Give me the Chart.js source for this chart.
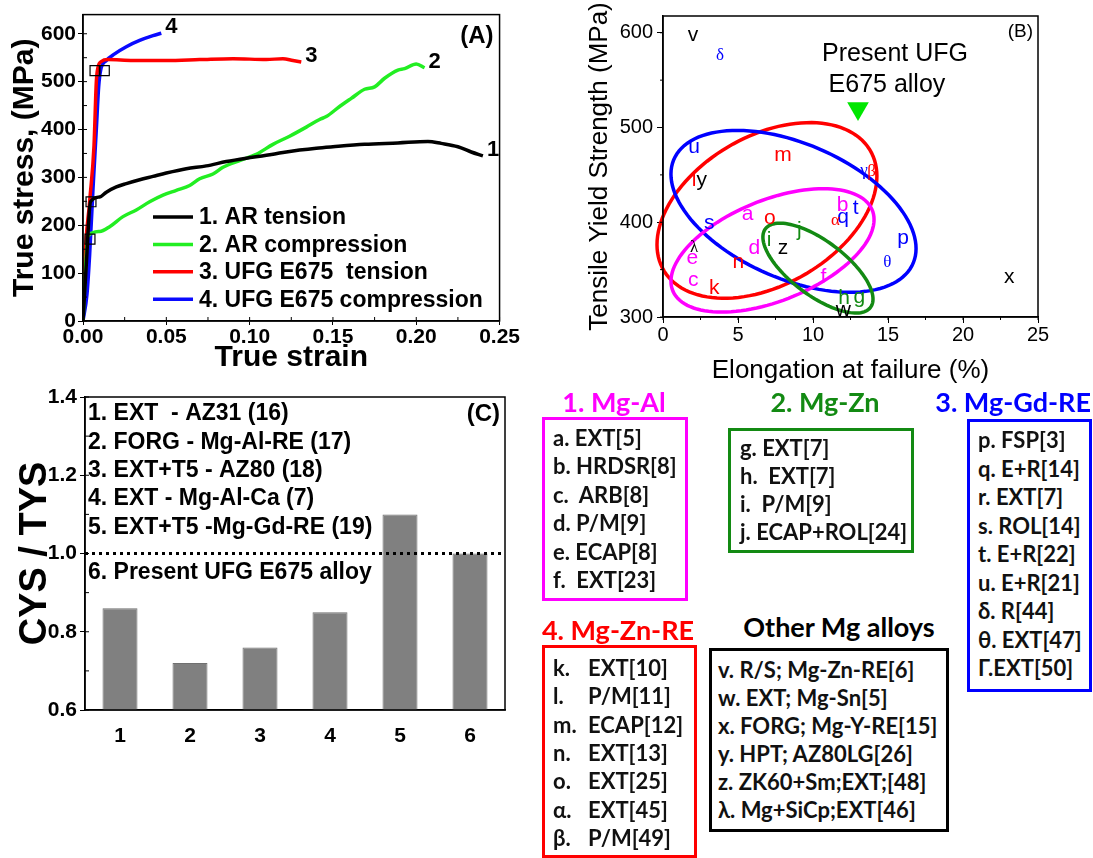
<!doctype html>
<html>
<head>
<title>Mg alloys - stress/strain, TYS map, CYS/TYS</title>
<script src="https://cdn.jsdelivr.net/npm/chart.js@4.4.0/dist/chart.umd.min.js"></script>
<style>
body{margin:0;background:#fff;}
#page{position:relative;width:1093px;height:858px;overflow:hidden;background:#fff;font-family:Lato,sans-serif;}
canvas{position:absolute;}
.box{position:absolute;box-sizing:border-box;border:3px solid;}
.ttl{position:absolute;font-weight:700;font-size:27px;line-height:30px;white-space:nowrap;}
.row{position:absolute;font-weight:700;font-size:22px;line-height:28px;white-space:pre;color:#111;}
</style>
</head>
<body>
<div id="page">
  <canvas id="cA" width="520" height="380" style="left:0;top:0"></canvas>
  <canvas id="cB" width="523" height="400" style="left:570px;top:0"></canvas>
  <canvas id="cC" width="520" height="420" style="left:0;top:380px"></canvas>
</div>
<script>
// ---- panel A : true stress / true strain curves
const strain1 = [0, 0.002, 0.0045, 0.010, 0.014, 0.020, 0.026, 0.034, 0.042, 0.050, 0.062, 0.074, 0.086, 0.098, 0.110, 0.120, 0.130, 0.140, 0.150, 0.169, 0.189, 0.207, 0.215, 0.225, 0.233, 0.240];
const stress1 = [0, 120, 249, 259, 269, 280, 287, 295, 302, 309, 318, 324, 333, 340, 346, 352, 357, 361, 364, 369, 372, 375, 371, 364, 353, 345];
const strain2 = [0, 0.003, 0.010, 0.016, 0.024, 0.032, 0.040, 0.048, 0.056, 0.064, 0.070, 0.078, 0.084, 0.094, 0.104, 0.114, 0.124, 0.134, 0.142, 0.146, 0.154, 0.161, 0.169, 0.175, 0.181, 0.189, 0.193, 0.200, 0.205];
const stress2 = [0, 178, 187, 197, 218, 232, 249, 263, 273, 283, 297, 307, 321, 335, 348, 369, 386, 405, 421, 427, 448, 465, 484, 489, 507, 524, 527, 537, 529];
const strain3 = [0, 0.001, 0.004, 0.0066, 0.008, 0.009, 0.011, 0.015, 0.030, 0.050, 0.070, 0.090, 0.110, 0.120, 0.126, 0.131];
const stress3 = [0, 120, 250, 366, 500, 530, 542, 546, 544, 544, 546, 548, 546, 548, 544, 541];
const strain4 = [0, 0.0024, 0.004, 0.006, 0.008, 0.0094, 0.0106, 0.014, 0.019, 0.026, 0.034, 0.042, 0.047];
const stress4 = [0, 56, 139, 276, 400, 489, 524, 544, 558, 573, 586, 596, 601];
const curveNames = ['1. AR tension', '2. AR compression', '3. UFG E675  tension', '4. UFG E675 compression'];
const curveTags = ['1', '2', '3', '4'];
const yieldStrain = [0.0072, 0.0128, 0.0048, 0.0042];
const yieldStress = [523, 523, 249, 171];

// ---- panel B : tensile yield strength vs elongation
const ptLabels = ['v', 'δ', 'u', 'm', 'l', 'y', 'γ', 'β', 'b', 't', 'q', 'α', 'a', 'o', 'j', 's', 'p', 'i', 'z', 'd', 'λ', 'e', 'θ', 'n', 'x', 'c', 'f', 'k', 'h', 'g', 'w'];
const ptElong  = [2.0, 3.8, 2.07, 8.0, 2.07, 2.58, 13.4, 13.9, 11.98, 12.84, 12.0, 11.5, 5.64, 7.13, 9.09, 3.09, 16.0, 7.07, 8.0, 6.09, 2.07, 1.96, 14.96, 5.02, 23.09, 2.02, 10.69, 3.42, 12.07, 13.09, 12.02];
const ptTys    = [597, 576, 479, 471, 444, 444, 455, 454, 418, 415, 405, 402, 408, 404, 392, 399, 383, 381, 373, 373, 373, 362, 358, 358, 342, 339, 342, 330, 320, 321, 307];
const ptGroup  = [4, 2, 2, 3, 3, 4, 2, 3, 0, 2, 2, 3, 0, 3, 1, 2, 2, 1, 4, 0, 4, 0, 2, 3, 4, 0, 0, 3, 1, 1, 4];
const ufgElong = [13.0];
const ufgTys = [520];
// ellipse per alloy group: centre, half extents, tilt (cos of phase)
const ellGroup = [3, 2, 0, 1];
const ellCx = [6.93, 8.7, 7.3, 10.33];
const ellCy = [412.5, 411.5, 370.3, 351.6];
const ellRx = [7.33, 8.17, 6.77, 3.67];
const ellRy = [92.7, 85.4, 65.1, 47.4];
const ellTilt = [0.39, -0.46, 0.50, -0.69];

// ---- panel C : CYS/TYS ratio
const cysCats = ['1', '2', '3', '4', '5', '6'];
const cysTys = [0.86, 0.72, 0.76, 0.85, 1.10, 1.00];
const cysRef = 1.0;
const cysNotes = ['1. EXT  - AZ31 (16)', '2. FORG - Mg-Al-RE (17)', '3. EXT+T5 - AZ80 (18)', '4. EXT - Mg-Al-Ca (7)', '5. EXT+T5 -Mg-Gd-RE (19)', '6. Present UFG E675 alloy'];

// ---- legend boxes
const boxTitles = ['1. Mg-Al', '2. Mg-Zn', '3. Mg-Gd-RE', '4. Mg-Zn-RE', 'Other Mg alloys'];
const boxRows = [
  ['a. EXT[5]', 'b. HRDSR[8]', 'c.  ARB[8]', 'd. P/M[9]', 'e. ECAP[8]', 'f.  EXT[23]'],
  ['g. EXT[7]', 'h.  EXT[7]', 'i.  P/M[9]', 'j. ECAP+ROL[24]'],
  ['p. FSP[3]', 'q. E+R[14]', 'r. EXT[7]', 's. ROL[14]', 't. E+R[22]', 'u. E+R[21]', 'δ. R[44]', 'θ. EXT[47]', 'Γ.EXT[50]'],
  ['k.\tEXT[10]', 'l.\tP/M[11]', 'm.\tECAP[12]', 'n.\tEXT[13]', 'o.\tEXT[25]', 'α.\tEXT[45]', 'β.\tP/M[49]'],
  ['v. R/S; Mg-Zn-RE[6]', 'w. EXT; Mg-Sn[5]', 'x. FORG; Mg-Y-RE[15]', 'y. HPT; AZ80LG[26]', 'z. ZK60+Sm;EXT;[48]', 'λ. Mg+SiCp;EXT[46]']
];

const groupColors = ['#ff00ff', '#138a13', '#0000ff', '#ff0000', '#000000'];
const curveColors = ['#000000', '#22ee22', '#ff0000', '#0a0aff'];

const boxLayout = [
  {rect: [542, 417, 688, 601], tx: 614, ty: 402, rx: 553, ry: 438, dy: 28.4},
  {rect: [728, 428, 914, 553], tx: 825, ty: 402, rx: 740, ry: 448, dy: 28},
  {rect: [967, 419, 1092, 692], tx: 1091, ty: 402, right: true, rx: 978, ry: 440, dy: 28.5},
  {rect: [542, 645, 697, 858], tx: 618, ty: 630, rx: 553, ry: 668, dy: 28.3, col2: 588},
  {rect: [709, 648, 949, 832], tx: 839, ty: 627, rx: 718, ry: 670, dy: 28}
];

const page = document.getElementById('page');
boxTitles.forEach(function(t, i) {
  const L = boxLayout[i];
  const col = groupColors[i === 3 ? 3 : (i === 4 ? 4 : i === 2 ? 2 : i === 1 ? 1 : 0)];
  const box = document.createElement('div');
  box.className = 'box';
  box.style.cssText = 'left:' + L.rect[0] + 'px;top:' + L.rect[1] + 'px;width:' + (L.rect[2] - L.rect[0]) + 'px;height:' + (L.rect[3] - L.rect[1]) + 'px;border-color:' + col;
  page.appendChild(box);
  const ttl = document.createElement('div');
  ttl.className = 'ttl';
  ttl.textContent = t;
  ttl.style.cssText = 'left:' + L.tx + 'px;top:' + L.ty + 'px;color:' + col + ';transform:translate(' + (L.right ? '-100%' : '-50%') + ',-50%)';
  page.appendChild(ttl);
  boxRows[i].forEach(function(r, k) {
    const parts = r.split('\t');
    const top = L.ry + k * L.dy - 14;
    const a = document.createElement('div');
    a.className = 'row';
    a.textContent = parts[0];
    a.style.cssText = 'left:' + L.rx + 'px;top:' + top + 'px';
    page.appendChild(a);
    if (parts.length > 1) {
      const b = document.createElement('div');
      b.className = 'row';
      b.textContent = parts[1];
      b.style.cssText = 'left:' + L.col2 + 'px;top:' + top + 'px';
      page.appendChild(b);
    }
  });
});

function pts(xs, ys) { return xs.map(function(x, i) { return {x: x, y: ys[i]}; }); }
const SANS = '"Liberation Sans", Arial, sans-serif';
function bold(s) { return {family: SANS, size: s, weight: 'bold'}; }
function plain(s) { return {family: SANS, size: s}; }

// frame round the plot area + minor tick marks
const framePlugin = {
  id: 'frame',
  afterDraw(chart, args, o) {
    const ctx = chart.ctx, a = chart.chartArea, sx = chart.scales.x, sy = chart.scales.y;
    ctx.save();
    ctx.strokeStyle = '#000';
    ctx.lineWidth = 1.5;
    ctx.strokeRect(a.left, a.top, a.right - a.left, a.bottom - a.top);
    ctx.lineWidth = 1;
    ctx.beginPath();
    if (o.minorX) {
      const n = Math.round((sx.max - sx.min) / o.minorX);
      for (let k = 0; k <= n; k++) {
        const px = sx.getPixelForValue(sx.min + k * o.minorX);
        ctx.moveTo(px, a.bottom); ctx.lineTo(px, a.bottom + o.dir * o.len);
      }
    }
    if (o.minorY) {
      const start = Math.ceil(sy.min / o.minorY - 1e-6) * o.minorY;
      const n = Math.floor((sy.max - start) / o.minorY + 1e-6);
      for (let k = 0; k <= n; k++) {
        const py = sy.getPixelForValue(start + k * o.minorY);
        ctx.moveTo(a.left, py); ctx.lineTo(a.left - o.dir * o.len, py);
      }
    }
    ctx.stroke();
    ctx.restore();
  }
};

// ---------- Chart A
const curves = [[strain1, stress1], [strain2, stress2], [strain3, stress3], [strain4, stress4]];
const panelA = {
  id: 'panelA',
  afterDatasetsDraw(chart) {
    const ctx = chart.ctx, a = chart.chartArea, x = chart.scales.x, y = chart.scales.y;
    ctx.save();
    ctx.fillStyle = '#000';
    ctx.textBaseline = 'middle';
    ctx.textAlign = 'left';
    ctx.font = 'bold 22px ' + SANS;
    curves.forEach(function(c, i) {
      const n = c[0].length - 1;
      ctx.fillText(curveTags[i], x.getPixelForValue(c[0][n]) + 4, y.getPixelForValue(c[1][n]) - 6);
    });
    ctx.textAlign = 'right';
    ctx.font = 'bold 24px ' + SANS;
    ctx.fillText('(A)', a.right - 6, a.top + 22);
    ctx.textAlign = 'left';
    ctx.font = 'bold 23px ' + SANS;
    curveNames.forEach(function(nm, i) {
      const yy = 217 + i * 27.4;
      ctx.strokeStyle = curveColors[i];
      ctx.lineWidth = 3.5;
      ctx.beginPath(); ctx.moveTo(153, yy); ctx.lineTo(193, yy); ctx.stroke();
      ctx.fillText(nm, 199, yy + 1);
    });
    ctx.restore();
  }
};

new Chart(document.getElementById('cA'), {
  type: 'line',
  data: {
    datasets: curves.map(function(c, i) {
      return {label: curveNames[i], data: pts(c[0], c[1]), borderColor: curveColors[i], borderWidth: 3.5,
        pointRadius: 0, cubicInterpolationMode: 'monotone', fill: false};
    }).concat([{type: 'scatter', label: 'yield', order: -1, data: pts(yieldStrain, yieldStress), pointStyle: 'rect',
      pointRadius: 7, pointBorderColor: '#000', pointBorderWidth: 1.2, pointBackgroundColor: 'rgba(0,0,0,0)'}])
  },
  options: {
    responsive: false, animation: false, devicePixelRatio: 1,
    layout: {padding: {top: 11, right: 19, left: 0, bottom: 0}},
    plugins: {legend: {display: false}, tooltip: {enabled: false}, frame: {minorX: 0.025, minorY: 50, len: 4, dir: -1}},
    scales: {
      x: {type: 'linear', min: 0, max: 0.25, afterFit(s) { s.height = 59; },
        ticks: {stepSize: 0.05, autoSkip: false, maxRotation: 0, callback: function(v) { return v.toFixed(2); }, font: bold(21), color: '#000', padding: 0},
        grid: {drawOnChartArea: false, tickLength: 4, color: '#000'}, border: {color: '#000', width: 1.5},
        title: {display: true, text: 'True strain', font: bold(30), color: '#000', padding: {top: 0, bottom: 4}}},
      y: {type: 'linear', min: 0, max: 640, afterFit(s) { s.width = 83; },
        ticks: {stepSize: 100, includeBounds: false, font: bold(21), color: '#000', padding: 2},
        grid: {drawOnChartArea: false, tickLength: 5, color: '#000'}, border: {color: '#000', width: 1.5},
        title: {display: true, text: 'True stress, (MPa)', font: bold(30), color: '#000', padding: {top: 7, bottom: 0}}}
    }
  },
  plugins: [framePlugin, panelA]
});

// ---------- Chart B
const GREEK = 'δγβαλθ';
const panelB = {
  id: 'panelB',
  beforeDatasetsDraw(chart) {
    const ctx = chart.ctx, x = chart.scales.x, y = chart.scales.y;
    ctx.save();
    ctx.lineWidth = 3.5;
    ellCx.forEach(function(cx, i) {
      const phi = Math.acos(ellTilt[i]);
      ctx.strokeStyle = groupColors[ellGroup[i]];
      ctx.beginPath();
      for (let k = 0; k <= 120; k++) {
        const t = k / 120 * 2 * Math.PI;
        const px = x.getPixelForValue(cx + ellRx[i] * Math.cos(t));
        const py = y.getPixelForValue(ellCy[i] + ellRy[i] * Math.cos(t - phi));
        if (k === 0) ctx.moveTo(px, py); else ctx.lineTo(px, py);
      }
      ctx.closePath();
      ctx.stroke();
    });
    ctx.restore();
  },
  afterDatasetsDraw(chart) {
    const ctx = chart.ctx, a = chart.chartArea, x = chart.scales.x, y = chart.scales.y;
    ctx.save();
    ctx.textAlign = 'center';
    ctx.textBaseline = 'middle';
    ptLabels.forEach(function(l, i) {
      ctx.fillStyle = groupColors[ptGroup[i]];
      ctx.font = GREEK.indexOf(l) >= 0 ? '17px "Liberation Serif", serif' : '21px ' + SANS;
      ctx.fillText(l, x.getPixelForValue(ptElong[i]), y.getPixelForValue(ptTys[i]));
    });
    ctx.fillStyle = '#000';
    ctx.font = '25px ' + SANS;
    ctx.fillText('Present UFG', x.getPixelForValue(15.47), y.getPixelForValue(578));
    ctx.fillText('E675 alloy', x.getPixelForValue(14.93), y.getPixelForValue(545));
    ctx.textAlign = 'right';
    ctx.font = '19px ' + SANS;
    ctx.fillText('(B)', a.right - 5, a.top + 16);
    ctx.restore();
  }
};

new Chart(document.getElementById('cB'), {
  type: 'scatter',
  data: {datasets: [{label: 'Present UFG E675 alloy', data: pts(ufgElong, ufgTys), pointStyle: 'triangle', pointRotation: 180,
    pointRadius: 12.5, pointBackgroundColor: '#00e600', pointBorderColor: '#00e600', pointBorderWidth: 0}]},
  options: {
    responsive: false, animation: false, devicePixelRatio: 1,
    layout: {padding: {top: 12, right: 55, left: 0, bottom: 0}},
    plugins: {legend: {display: false}, tooltip: {enabled: false}, frame: {minorX: 2.5, minorY: 50, len: 3, dir: 1}},
    scales: {
      x: {type: 'linear', min: 0, max: 25, afterFit(s) { s.height = 83; },
        ticks: {stepSize: 5, autoSkip: false, maxRotation: 0, font: plain(20), color: '#000', padding: 0},
        grid: {drawOnChartArea: false, tickLength: 6, color: '#000'}, border: {color: '#000', width: 1.5},
        title: {display: true, text: 'Elongation at failure (%)', font: plain(26), color: '#000', padding: {top: 0, bottom: 14}}},
      y: {type: 'linear', min: 300, max: 617.7, afterFit(s) { s.width = 93; },
        ticks: {stepSize: 100, includeBounds: false, font: plain(20), color: '#000', padding: 4},
        grid: {drawOnChartArea: false, tickLength: 6, color: '#000'}, border: {color: '#000', width: 1.5},
        title: {display: true, text: 'Tensile Yield Strength (MPa)', font: plain(26), color: '#000', padding: {top: 14, bottom: 0}}}
    }
  },
  plugins: [framePlugin, panelB]
});

// ---------- Chart C
const panelC = {
  id: 'panelC',
  afterDatasetsDraw(chart) {
    const ctx = chart.ctx, a = chart.chartArea, y = chart.scales.y;
    ctx.save();
    const py = y.getPixelForValue(cysRef);
    ctx.strokeStyle = '#000';
    ctx.lineWidth = 3;
    ctx.setLineDash([3, 4]);
    ctx.beginPath(); ctx.moveTo(a.left, py); ctx.lineTo(a.right, py); ctx.stroke();
    ctx.setLineDash([]);
    ctx.fillStyle = '#000';
    ctx.textBaseline = 'middle';
    ctx.textAlign = 'left';
    ctx.font = 'bold 23px ' + SANS;
    cysNotes.forEach(function(t, i) {
      const yy = a.top + (i < 5 ? 17 + i * 28.3 : 176);
      ctx.fillText(t, a.left + 3, yy);
    });
    ctx.textAlign = 'right';
    ctx.font = 'bold 24px ' + SANS;
    ctx.fillText('(C)', a.right - 5, a.top + 17);
    ctx.restore();
  }
};

new Chart(document.getElementById('cC'), {
  type: 'bar',
  data: {labels: cysCats, datasets: [{label: 'CYS / TYS', data: cysTys, backgroundColor: '#808080',
    borderColor: '#707070', borderWidth: 1, barPercentage: 0.5, categoryPercentage: 1}]},
  options: {
    responsive: false, animation: false, devicePixelRatio: 1,
    layout: {padding: {top: 17, right: 15, left: 0, bottom: 0}},
    plugins: {legend: {display: false}, tooltip: {enabled: false}, frame: {minorY: 0.1, len: 4, dir: -1}},
    scales: {
      x: {afterFit(s) { s.height = 90; },
        ticks: {font: bold(21), color: '#000', padding: 6},
        grid: {display: false}, border: {color: '#000', width: 1.5}},
      y: {min: 0.6, max: 1.4, afterFit(s) { s.width = 85; },
        ticks: {stepSize: 0.2, callback: function(v) { return v.toFixed(1); }, font: bold(21), color: '#000', padding: 3},
        grid: {drawOnChartArea: false, tickLength: 5, color: '#000'}, border: {color: '#000', width: 1.5},
        title: {display: true, text: 'CYS / TYS', font: bold(38), color: '#000', padding: {top: 13, bottom: 0}}}
    }
  },
  plugins: [framePlugin, panelC]
});
</script>
</body>
</html>
